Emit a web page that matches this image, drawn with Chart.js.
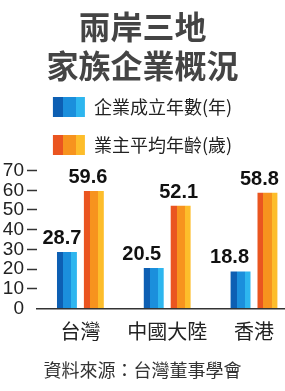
<!DOCTYPE html>
<html><head><meta charset="utf-8">
<script src="https://cdn.jsdelivr.net/npm/chart.js@4/dist/chart.umd.min.js"></script>
<style>html,body{margin:0;padding:0;background:#fff;overflow:hidden}#c{display:block}</style>
</head><body>
<canvas id="c" width="285" height="391"></canvas>
<script>
// ---- data ----
const categories = ['台灣', '中國大陸', '香港'];
const seriesNames = ['企業成立年數(年)', '業主平均年齡(歲)'];
const foundedYears = [28.7, 20.5, 18.8];
const ownerAge = [59.6, 52.1, 58.8];
const yTicks = [0, 10, 20, 30, 40, 50, 60, 70];
const titleLines = ['兩岸三地', '家族企業概況'];
const sourceText = '資料來源：台灣董事學會';

// ---- styles ----
const stripes = [
  ['#0d5fb3', '#1b8fdc', '#2eb6ef'],
  ['#ea5520', '#f7931e', '#fdbd2b']
];
const labelDx = [[-5, -6], [-12, -2], [-11, -8]];
const CJK = '"Noto Sans CJK TC", "Noto Sans CJK SC", sans-serif';

function stripeGradient(ctx, x0, x1, cols) {
  const g = ctx.createLinearGradient(x0, 0, x1, 0);
  g.addColorStop(0, cols[0]); g.addColorStop(0.3, cols[0]);
  g.addColorStop(0.3, cols[1]); g.addColorStop(0.71, cols[1]);
  g.addColorStop(0.71, cols[2]); g.addColorStop(1, cols[2]);
  return g;
}

const stripePlugin = {
  id: 'stripes',
  beforeDraw(chart) {
    const lg = chart.legend;
    if (!lg || !lg.legendItems) return;
    const pad = lg.options.labels.padding;
    const bw = lg.options.labels.boxWidth;
    lg.legendItems.forEach((item, i) => {
      const hb = lg.legendHitBoxes[i];
      const row = hb ? hb.row : i;
      const x = ((lg.left + pad) + (lg.right - lg.lineWidths[row])) / 2;
      item.fillStyle = stripeGradient(chart.ctx, x, x + bw, stripes[item.datasetIndex]);
      item.lineWidth = 0;
    });
  },
  beforeDatasetsDraw(chart) {
    chart.data.datasets.forEach((ds, di) => {
      const meta = chart.getDatasetMeta(di);
      meta.data.forEach(el => {
        const p = el.getProps(['x', 'width'], true);
        const g = stripeGradient(chart.ctx, p.x - p.width / 2, p.x + p.width / 2, stripes[di]);
        el.options = Object.assign({}, el.options, { backgroundColor: g });
      });
    });
  }
};

const valueLabelPlugin = {
  id: 'valueLabels',
  afterDatasetsDraw(chart) {
    const ctx = chart.ctx;
    ctx.save();
    ctx.font = 'bold 20px "Liberation Sans", Arial, sans-serif';
    ctx.fillStyle = '#111';
    ctx.textAlign = 'center';
    ctx.textBaseline = 'alphabetic';
    chart.data.datasets.forEach((ds, di) => {
      const meta = chart.getDatasetMeta(di);
      meta.data.forEach((el, i) => {
        const p = el.getProps(['x', 'y'], true);
        const v = ds.data[i].y;
        ctx.fillText(v.toFixed(1), p.x + labelDx[i][di], p.y - 8);
      });
    });
    ctx.restore();
  }
};

new Chart(document.getElementById('c'), {
  type: 'bar',
  data: {
    datasets: [
      { label: seriesNames[0], data: foundedYears.map((v, i) => ({ x: i, y: v })), backgroundColor: stripes[0][1], borderWidth: 0 },
      { label: seriesNames[1], data: ownerAge.map((v, i) => ({ x: i, y: v })), backgroundColor: stripes[1][1], borderWidth: 0 }
    ]
  },
  options: {
    responsive: false,
    animation: false,
    devicePixelRatio: 1,
    categoryPercentage: 0.62,
    barPercentage: 0.74,
    layout: { padding: 0 },
    plugins: {
      tooltip: { enabled: false },
      title: {
        display: true, text: titleLines, color: '#444',
        font: { family: CJK, size: 32, weight: 'bold', lineHeight: 39 / 32 },
        padding: { top: 7, bottom: -6 }
      },
      legend: {
        position: 'top', align: 'center',
        labels: { boxWidth: 32, boxHeight: 20, padding: 18, color: '#222', font: { family: CJK, size: 18 } }
      },
      subtitle: {
        display: true, position: 'bottom', text: sourceText, color: '#333',
        font: { family: CJK, size: 18, lineHeight: 1.2 },
        padding: { top: 5, bottom: 10 }
      }
    },
    scales: {
      x: {
        type: 'linear', min: -0.5, max: 2.35, offset: false,
        afterBuildTicks: s => { s.ticks = categories.map((_, i) => ({ value: i })); },
        ticks: { callback: v => categories[v], autoSkip: false, maxRotation: 0, font: { family: CJK, size: 20 }, color: '#222', padding: 11 },
        grid: { display: false, drawTicks: false },
        border: { display: true, color: '#333', width: 1.5 }
      },
      y: {
        min: 0, max: 72.84,
        afterBuildTicks: s => { s.ticks = yTicks.map(v => ({ value: v })); },
        afterFit: s => { s.width = 37; },
        ticks: { autoSkip: false, font: { family: '"Liberation Sans", Arial, sans-serif', size: 19 }, color: '#222', padding: 3 },
        grid: {
          drawOnChartArea: false, drawTicks: true, tickLength: 10, tickWidth: 1.5,
          tickColor: c => (c.tick && c.tick.value === 0) ? 'rgba(0,0,0,0)' : '#333'
        },
        border: { display: false }
      }
    }
  },
  plugins: [stripePlugin, valueLabelPlugin]
});
</script>
</body></html>
